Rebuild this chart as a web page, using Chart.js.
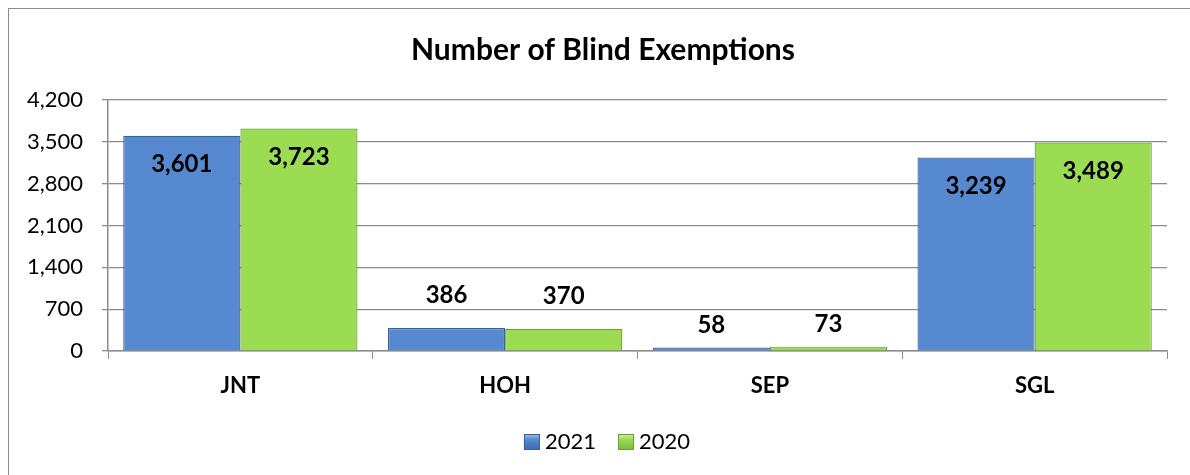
<!DOCTYPE html>
<html><head><meta charset="utf-8">
<script src="https://cdn.jsdelivr.net/npm/chart.js@4"></script>
<style>
html,body{margin:0;padding:0;background:#fff;overflow:hidden}
#frame{position:absolute;left:8px;top:8px;width:1200px;height:500px;border:1.5px solid #8c8c8c;box-sizing:border-box}
#wrap{position:absolute;left:0;top:0;width:1190px;height:475px}
</style></head><body>
<div id="frame"></div>
<div id="wrap"><canvas id="c" width="1190" height="475"></canvas></div>
<script>
const categories = ["JNT", "HOH", "SEP", "SGL"];
const series2021 = [3601, 386, 58, 3239];
const series2020 = [3723, 370, 73, 3489];
const seriesNames = ["2021", "2020"];
const yTicks = [0, 700, 1400, 2100, 2800, 3500, 4200];
const titleText = 'Number of Blind Exemptions';

const FONT = "Lato, 'Open Sans', sans-serif";
const COLORS = [
  { edge1: '#4a78b8', mid: '#5689cf', edge2: '#3f6aa8', border: '#3a62a0', light: '#9cc3f0' },
  { edge1: '#86c446', mid: '#9bdc52', edge2: '#7db83f', border: '#6e9f35', light: '#d2f2a0' }
];

function grad(ctx, c) {
  const chart = ctx.chart;
  const el = ctx.element;
  if (!chart.chartArea || !el || el.x === undefined) return c.mid;
  const w = el.width || 100;
  const g = chart.ctx.createLinearGradient(el.x - w/2, 0, el.x + w/2, 0);
  g.addColorStop(0, c.edge1);
  g.addColorStop(0.08, c.mid);
  g.addColorStop(0.92, c.mid);
  g.addColorStop(1, c.edge2);
  return g;
}

const labelPlugin = {
  id: 'valueLabels',
  afterDatasetsDraw(chart) {
    const ctx = chart.ctx;
    ctx.save();
    ctx.font = "bold 24px " + FONT;
    ctx.fillStyle = "#000";
    ctx.textAlign = "center";
    ctx.textBaseline = "middle";
    chart.data.datasets.forEach((ds, i) => {
      const meta = chart.getDatasetMeta(i);
      meta.data.forEach((bar, j) => {
        const v = ds.data[j];
        const h = bar.base - bar.y;
        let y;
        if (h > 80) y = bar.y + 28.5;
        else if (h > 10) y = bar.y - 33;
        else y = bar.y - 22;
        ctx.fillText(v.toLocaleString('en-US'), bar.x, y);
      });
    });
    ctx.restore();
  }
};

const titlePlugin = {
  id: 'customTitle',
  afterDraw(chart) {
    const ctx = chart.ctx;
    ctx.save();
    ctx.font = "bold 30px " + FONT;
    ctx.fillStyle = '#000';
    ctx.textAlign = 'center';
    ctx.textBaseline = 'middle';
    ctx.fillText(titleText, 603, 50);
    ctx.restore();
  }
};

const legendPlugin = {
  id: 'customLegend',
  afterDraw(chart) {
    const ctx = chart.ctx;
    ctx.save();
    ctx.font = "22px " + FONT;
    ctx.textBaseline = "middle";
    ctx.textAlign = "left";
    const box = 16, gapText = 5, gapItem = 22, cy = 442;
    const items = chart.data.datasets.map((ds, i) => ({ text: ds.label, w: ctx.measureText(ds.label).width, c: COLORS[i] }));
    let total = 0;
    items.forEach((it, i) => { total += box + gapText + it.w + (i ? gapItem : 0); });
    let x = 607 - total / 2;
    items.forEach((it, i) => {
      if (i) x += gapItem;
      const g = ctx.createLinearGradient(0, cy - box/2, 0, cy + box/2);
      g.addColorStop(0, it.c.light);
      g.addColorStop(0.35, it.c.mid);
      g.addColorStop(1, it.c.edge2);
      ctx.fillStyle = g;
      ctx.fillRect(x, cy - box/2, box, box);
      ctx.strokeStyle = it.c.border;
      ctx.lineWidth = 1;
      ctx.strokeRect(x + 0.5, cy - box/2 + 0.5, box - 1, box - 1);
      x += box + gapText;
      ctx.fillStyle = '#000';
      ctx.fillText(it.text, x, cy);
      x += it.w;
    });
    ctx.restore();
  }
};

new Chart(document.getElementById('c'), {
  type: 'bar',
  data: {
    labels: categories,
    datasets: [
      { label: seriesNames[0], data: series2021,
        backgroundColor: ctx => grad(ctx, COLORS[0]),
        borderColor: COLORS[0].border, borderWidth: 1.2 },
      { label: seriesNames[1], data: series2020,
        backgroundColor: ctx => grad(ctx, COLORS[1]),
        borderColor: COLORS[1].border, borderWidth: 1.2 }
    ]
  },
  options: {
    responsive: false,
    animation: false,
    layout: { padding: { left: 0, right: 23, top: 100, bottom: 59 } },
    datasets: { bar: { categoryPercentage: 0.885, barPercentage: 1.0 } },
    plugins: {
      title: { display: false },
      legend: { display: false },
      tooltip: { enabled: false }
    },
    scales: {
      x: {
        afterFit: axis => { axis.height = 65; },
        grid: { display: true, drawOnChartArea: false, drawTicks: true, tickLength: 8, offset: true, color: '#8c8c8c' },
        border: { display: true, color: '#8c8c8c', width: 1.5 },
        ticks: { color: '#000', font: { family: FONT, size: 22, weight: 'bold' }, padding: 14 }
      },
      y: {
        min: 0, max: 4200,
        afterBuildTicks: axis => { axis.ticks = yTicks.map(v => ({ value: v })); },
        afterFit: axis => { axis.width = 108; },
        grid: { color: '#8c8c8c', lineWidth: 1.3, tickLength: 6 },
        border: { display: true, color: '#8c8c8c', width: 1.5 },
        ticks: { color: '#000', font: { family: FONT, size: 22 }, padding: 19,
          callback: v => v.toLocaleString('en-US') }
      }
    }
  },
  plugins: [labelPlugin, titlePlugin, legendPlugin]
});
</script>
</body></html>
